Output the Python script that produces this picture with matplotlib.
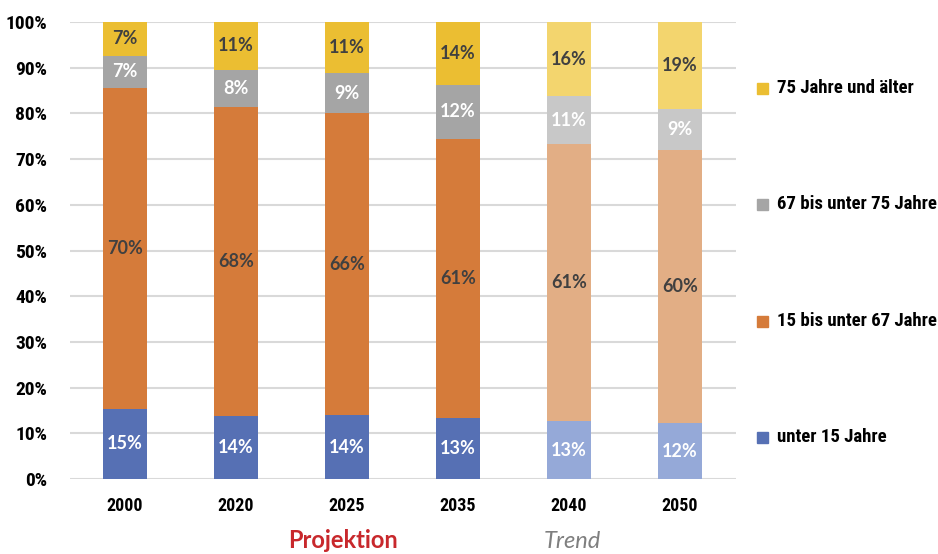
import numpy as np
import matplotlib.pyplot as plt

# Daten (Anteile in %)
jahre = ["2000", "2020", "2025", "2035", "2040", "2050"]
unter15 = [15.4, 13.7, 14.0, 13.3, 12.6, 12.2]
bis67 = [70.2, 67.8, 66.0, 61.2, 60.6, 59.8]
bis75 = [7.0, 8.0, 8.8, 11.8, 10.6, 9.0]
ab75 = [7.4, 10.6, 11.2, 13.7, 16.2, 19.0]
trend = [False, False, False, False, True, True]

namen = ["unter 15 Jahre", "15 bis unter 67 Jahre", "67 bis unter 75 Jahre", "75 Jahre und älter"]
farben = ["#5670B4", "#D57B3A", "#A5A5A5", "#EBBE32"]
farben_trend = ["#95A9D8", "#E2AE85", "#C8C8C8", "#F3D56E"]
text_farben = ["white", "#404040", "white", "#404040"]

plt.rcParams["font.family"] = ["Roboto Condensed", "DejaVu Sans"]

fig = plt.figure(figsize=(9.38, 5.54), dpi=100)
ax = fig.add_axes([69.5 / 938, 75 / 554, 666 / 938, 457 / 554])

x = np.arange(len(jahre))
serien = [unter15, bis67, bis75, ab75]
unten = np.zeros(len(jahre))
for i, werte in enumerate(serien):
    werte = np.array(werte)
    cols = [farben_trend[i] if t else farben[i] for t in trend]
    ax.bar(x, werte, bottom=unten, width=0.39, color=cols, zorder=2)
    for xi, w, b in zip(x, werte, unten):
        ax.text(xi, b + w / 2, f"{round(w)}%", ha="center", va="center",
                color=text_farben[i], fontsize=13, fontfamily=["Lato", "DejaVu Sans"],
                fontweight="bold", zorder=3)
    unten += werte

ax.set_xlim(-0.5, len(jahre) - 0.5)
ax.set_ylim(0, 100)
ax.set_yticks(np.arange(0, 101, 10))
ax.set_yticklabels([f"{v}%" for v in range(0, 101, 10)])
ax.set_xticks(x)
ax.set_xticklabels(jahre)
ax.grid(axis="y", color="#D9D9D9", linewidth=1.5, zorder=0)
for s in ax.spines.values():
    s.set_visible(False)
ax.tick_params(axis="x", length=0, labelsize=13, pad=13)
ax.tick_params(axis="y", length=0, labelsize=14, pad=16)
for lab in ax.get_xticklabels() + ax.get_yticklabels():
    lab.set_fontweight("bold")

# Legende rechts
leg_y = [437, 321, 204, 88]
for i in range(4):
    yy = 1 - leg_y[i] / 554
    fig.patches.append(plt.Rectangle((757 / 938, yy - 5.5 / 554), 11 / 938, 11 / 554,
                                     transform=fig.transFigure, color=farben[i]))
    fig.text(777 / 938, yy, namen[i], ha="left", va="center", fontsize=13.5,
             fontweight="bold")

fig.text(343 / 938, 1 - 541 / 554, "Projektion", ha="center", va="center",
         color="#C8282C", fontsize=17, fontfamily=["Lato", "DejaVu Sans"], fontweight="bold")
fig.text(572 / 938, 1 - 541 / 554, "Trend", ha="center", va="center",
         color="#7F7F7F", fontsize=17, fontfamily=["Lato", "DejaVu Sans"],
         fontstyle="italic")

fig.savefig("out.png", dpi=100)
